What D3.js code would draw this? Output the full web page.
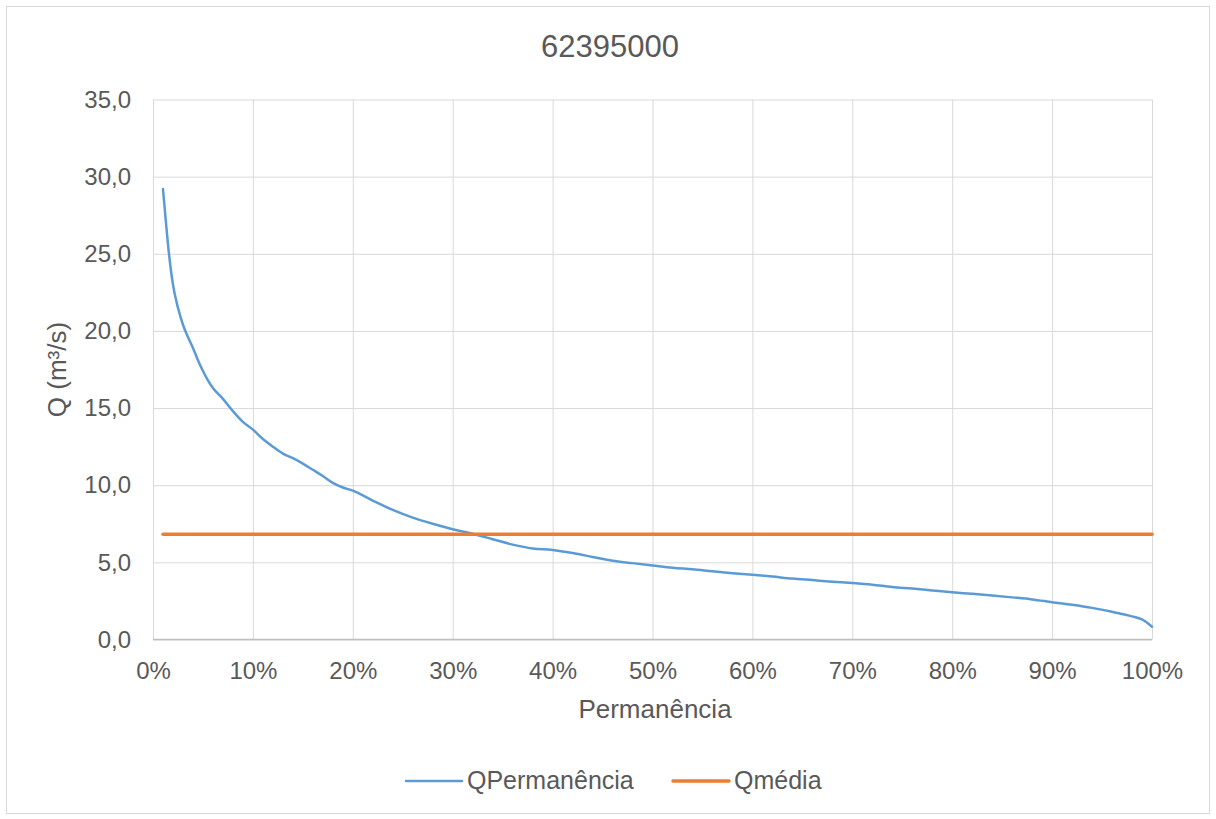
<!DOCTYPE html>
<html>
<head>
<meta charset="utf-8">
<script src="https://cdn.jsdelivr.net/npm/d3@7"></script>
<style>
  html, body { margin: 0; padding: 0; background: #fff; }
  svg { display: block; font-family: "Liberation Sans", Arial, sans-serif; }
</style>
</head>
<body>
<svg id="chart" width="1216" height="819"></svg>
<script>
// Flow duration curve for station 62395000
const chartTitle = "62395000";
const permanencia = [1, 1.3, 1.6, 2, 2.5, 3, 3.5, 4, 4.5, 5, 5.5, 6, 7, 8, 9, 10, 11, 12, 13, 14, 15, 16, 17, 18, 19, 20,
  22, 24, 26, 28, 30, 32, 34, 36, 38, 40, 42, 44, 46, 48, 50, 52, 54, 56, 58, 60, 62, 64, 66, 68, 70,
  72, 74, 76, 78, 80, 82, 84, 86, 88, 90, 92, 94, 96, 97, 98, 99, 100];
const qPermanencia = [29.2, 27.0, 25.0, 23.0, 21.5, 20.4, 19.6, 18.9, 18.1, 17.4, 16.8, 16.3, 15.6, 14.8, 14.1, 13.6,
  13.0, 12.5, 12.05, 11.75, 11.4, 11.0, 10.6, 10.15, 9.85, 9.65,
  9.0, 8.4, 7.9, 7.5, 7.15, 6.85, 6.5, 6.15, 5.9, 5.8, 5.6, 5.35, 5.1, 4.95, 4.8, 4.65, 4.55, 4.42, 4.3, 4.2,
  4.08, 3.95, 3.85, 3.75, 3.66, 3.55, 3.4, 3.3, 3.18, 3.06, 2.96, 2.85, 2.73, 2.6, 2.42, 2.25, 2.05, 1.8,
  1.65, 1.5, 1.3, 0.83];
const qMedia = 6.82;
const xTicks = [0, 10, 20, 30, 40, 50, 60, 70, 80, 90, 100];
const yTicks = [0, 5, 10, 15, 20, 25, 30, 35];
const seriesNames = ["QPermanência", "Qmédia"];

const svg = d3.select("#chart");
const W = 1216, H = 819;
const m = { left: 153, right: 1152, top: 99.5, bottom: 639.5 };
const font = "'Liberation Sans', Arial, sans-serif";

// chart frame
svg.append("rect").attr("x", 6.5).attr("y", 6.5).attr("width", W - 13).attr("height", H - 12)
  .attr("fill", "#fff").attr("stroke", "#d9d9d9").attr("stroke-width", 1);

const x = d3.scaleLinear().domain([0, 100]).range([m.left, m.right]);
const y = d3.scaleLinear().domain([0, 35]).range([m.bottom, m.top]);

const textColor = "#595959";

// gridlines
svg.append("g").attr("transform", `translate(0,${m.bottom})`)
  .call(d3.axisBottom(x).tickValues(xTicks).tickSize(-(m.bottom - m.top)).tickFormat(""))
  .call(g => g.select(".domain").remove())
  .call(g => g.selectAll("line").attr("stroke", "#d9d9d9").attr("stroke-width", 1));
svg.append("g").attr("transform", `translate(${m.left},0)`)
  .call(d3.axisLeft(y).tickValues(yTicks).tickSize(-(m.right - m.left)).tickFormat(""))
  .call(g => g.select(".domain").remove())
  .call(g => g.selectAll("line").attr("stroke", "#d9d9d9").attr("stroke-width", 1));

// bottom axis line
svg.append("line").attr("x1", m.left).attr("x2", m.right).attr("y1", y(0)).attr("y2", y(0))
  .attr("stroke", "#bfbfbf").attr("stroke-width", 1.5);

// tick labels
svg.append("g").attr("transform", `translate(0,${m.bottom})`)
  .call(d3.axisBottom(x).tickValues(xTicks).tickSize(0).tickPadding(22).tickFormat(d => d + "%"))
  .call(g => g.select(".domain").remove())
  .call(g => g.selectAll("text").attr("fill", textColor).style("font-size", "24px").style("font-family", font));
svg.append("g").attr("transform", `translate(${m.left},0)`)
  .call(d3.axisLeft(y).tickValues(yTicks).tickSize(0).tickPadding(22)
    .tickFormat(d => d3.format(".1f")(d).replace(".", ",")))
  .call(g => g.select(".domain").remove())
  .call(g => g.selectAll("text").attr("fill", textColor).style("font-size", "24px").style("font-family", font));

// title and axis titles
svg.append("text").attr("x", 610).attr("y", 57).attr("text-anchor", "middle")
  .attr("fill", textColor).style("font-size", "31px").text(chartTitle);
svg.append("text").attr("x", 655).attr("y", 718).attr("text-anchor", "middle")
  .attr("fill", textColor).style("font-size", "26px").text("Permanência");
svg.append("text").attr("transform", `translate(66,${(m.top + m.bottom) / 2}) rotate(-90)`)
  .attr("text-anchor", "middle").attr("fill", textColor).style("font-size", "26px")
  .text("Q (m³/s)");

// series
const data = permanencia.map((p, i) => ({ p, q: qPermanencia[i] }));
const line = d3.line().x(d => x(d.p)).y(d => y(d.q)).curve(d3.curveMonotoneX);
svg.append("path").datum(data).attr("d", line).attr("fill", "none")
  .attr("stroke", "#5b9bd5").attr("stroke-width", 2.5).attr("stroke-linejoin", "round").attr("stroke-linecap", "round");

svg.append("line").attr("x1", x(permanencia[0])).attr("x2", x(100))
  .attr("y1", y(qMedia)).attr("y2", y(qMedia))
  .attr("stroke", "#ed7d31").attr("stroke-width", 3.5).attr("stroke-linecap", "round");

// legend
const legend = [
  { name: seriesNames[0], color: "#5b9bd5", w: 2.5, x0: 406 },
  { name: seriesNames[1], color: "#ed7d31", w: 3.5, x0: 673 }
];
const lg = svg.append("g");
legend.forEach(d => {
  lg.append("line").attr("x1", d.x0).attr("x2", d.x0 + 56).attr("y1", 781).attr("y2", 781)
    .attr("stroke", d.color).attr("stroke-width", d.w).attr("stroke-linecap", "round");
  lg.append("text").attr("x", d.x0 + 61).attr("y", 789).attr("fill", textColor)
    .style("font-size", "25px").text(d.name);
});
</script>
</body>
</html>
